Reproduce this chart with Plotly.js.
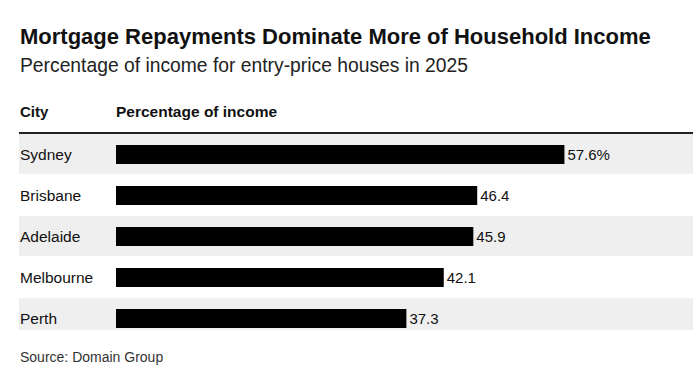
<!DOCTYPE html>
<html>
<head>
<meta charset="utf-8">
<script src="https://cdn.plot.ly/plotly-3.0.1.min.js"></script>
<style>
html,body{margin:0;padding:0;background:#fff;}
#chart{width:700px;height:376px;}
</style>
</head>
<body>
<div id="chart"></div>
<script>
const cities = ['Sydney', 'Brisbane', 'Adelaide', 'Melbourne', 'Perth'];
const percentOfIncome = [57.6, 46.4, 45.9, 42.1, 37.3];
const valueLabels = percentOfIncome.map((v, i) => i === 0 ? v.toFixed(1) + '%' : v.toFixed(1));
const titleText = 'Mortgage Repayments Dominate More of Household Income';
const subtitleText = 'Percentage of income for entry-price houses in 2025';
const columnHeaders = ['City', 'Percentage of income'];
const sourceText = 'Source: Domain Group';

const FONT = '"Liberation Sans", Arial, Helvetica, sans-serif';
const W = 700, H = 376, T = 134, B = 37, L = 19, R = 7;
const plotW = W - L - R;
const plotH = H - T - B;
const py = p => (H - B - p) / plotH;   // pixel -> paper y
const px = p => (p - L) / plotW;       // pixel -> paper x

const shapes = [];
// alternating row bands
[[0, -0.5, 0.476], [2, 1.5, 2.476], [4, 3.5, 4.28]].forEach(b => {
  shapes.push({type: 'rect', xref: 'paper', yref: 'y', x0: 0, x1: 1, y0: b[1], y1: b[2],
    fillcolor: '#efefef', line: {width: 0}, layer: 'below'});
});
// header rule
shapes.push({type: 'line', xref: 'paper', yref: 'paper', x0: 0, x1: 1, y0: py(133), y1: py(133),
  line: {color: '#222', width: 2}});

const annotations = [
  {text: '<b>' + titleText + '</b>', xref: 'paper', yref: 'paper', x: px(18), y: py(36), xanchor: 'left', yanchor: 'middle',
   showarrow: false, font: {family: FONT, size: 22, color: '#111'}},
  {text: subtitleText, xref: 'paper', yref: 'paper', x: px(18), y: py(66), xanchor: 'left', yanchor: 'middle',
   showarrow: false, font: {family: FONT, size: 19.3, color: '#222'}},
  {text: '<b>' + columnHeaders[0] + '</b>', xref: 'paper', yref: 'paper', x: px(18), y: py(112), xanchor: 'left', yanchor: 'middle',
   showarrow: false, font: {family: FONT, size: 15, color: '#111'}},
  {text: '<b>' + columnHeaders[1] + '</b>', xref: 'x', yref: 'paper', x: -0.2, y: py(112), xanchor: 'left', yanchor: 'middle',
   showarrow: false, font: {family: FONT, size: 15.5, color: '#111'}},
  {text: sourceText, xref: 'paper', yref: 'paper', x: px(18), y: py(357), xanchor: 'left', yanchor: 'middle',
   showarrow: false, font: {family: FONT, size: 14, color: '#333'}}
];
cities.forEach(c => annotations.push({text: c, xref: 'paper', yref: 'y', x: px(18), y: c, xanchor: 'left', yanchor: 'middle',
  showarrow: false, font: {family: FONT, size: 15.5, color: '#111'}}));

const trace = {
  type: 'bar', orientation: 'h', x: percentOfIncome, y: cities,
  marker: {color: '#000', line: {width: 0}}, width: 0.46,
  text: valueLabels, textposition: 'outside', cliponaxis: false,
  textfont: {family: FONT, size: 15, color: '#111'},
  hoverinfo: 'skip'
};

const pxPerUnit = 7.785;
const layout = {
  width: W, height: H,
  margin: {l: L, r: R, t: T, b: B, pad: 0},
  paper_bgcolor: '#fff', plot_bgcolor: 'rgba(0,0,0,0)',
  showlegend: false,
  xaxis: {range: [-97 / pxPerUnit, 577 / pxPerUnit], visible: false, fixedrange: true},
  yaxis: {type: 'category', range: [4.5, -0.5], visible: false, fixedrange: true},
  shapes: shapes, annotations: annotations,
  uniformtext: {mode: false}
};

Plotly.newPlot('chart', [trace], layout, {displayModeBar: false, staticPlot: true});
</script>
</body>
</html>
